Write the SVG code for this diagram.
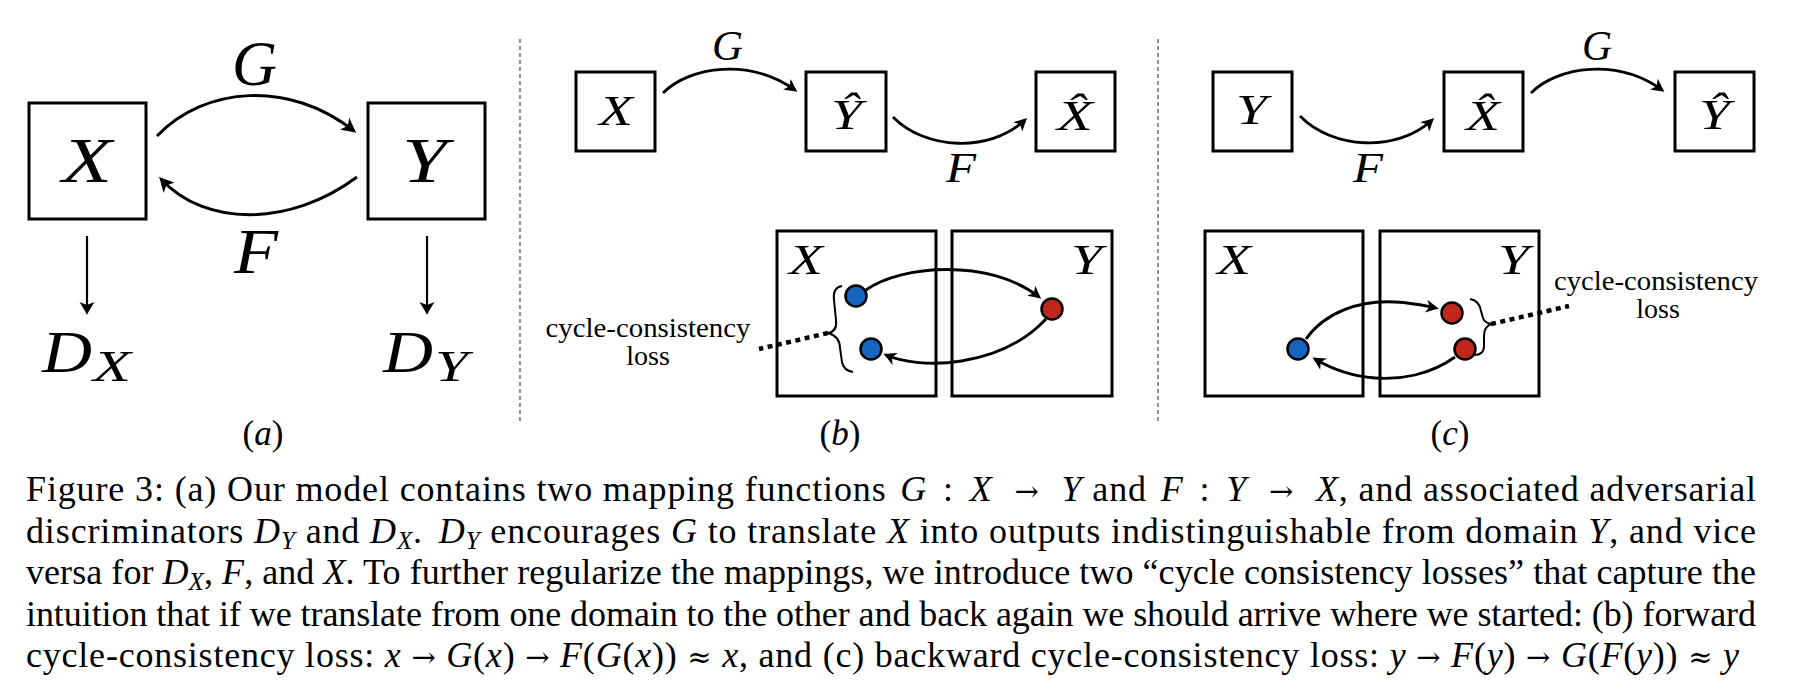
<svg xmlns="http://www.w3.org/2000/svg" width="1796" height="690" viewBox="0 0 1796 690">
<style>
.bx{fill:none;stroke:#000;stroke-width:3}
.cv{fill:none;stroke:#000;stroke-width:3}
.cv2{fill:none;stroke:#000;stroke-width:2.8}
.dn{fill:none;stroke:#000;stroke-width:2.2}
.div{fill:none;stroke:#777;stroke-width:1.6;stroke-dasharray:4 3}
.dot{fill:none;stroke:#000;stroke-width:4.5;stroke-dasharray:5 4.5}
.br{fill:none;stroke:#000;stroke-width:2}
.mi{font-family:"Liberation Serif","Times New Roman",serif;font-style:italic;fill:#000}
.rm{font-family:"Liberation Serif","Times New Roman",serif;fill:#000}
.big{font-size:63px}
.sm{font-size:42px}
.cap{font-family:"Liberation Serif","Times New Roman",serif;font-size:36px;fill:#000}
.cap .i{font-style:italic}
.cap .ar{font-family:"DejaVu Serif",serif;font-size:29px}
.lbl{font-family:"Liberation Serif","Times New Roman",serif;font-size:28px;fill:#000;text-anchor:middle}
.sub{font-size:25px}
.bd{fill:#1565c0;stroke:#000;stroke-width:2.5}
.rd{fill:#c1281b;stroke:#000;stroke-width:2.5}
</style>
<defs>
<marker id="ahL" markerUnits="userSpaceOnUse" orient="auto" refX="-3" refY="0" overflow="visible">
<path d="M0,0 C-4,-1.6 -9,-4.5 -15,-7.5 L-11,0 L-15,7.5 C-9,4.5 -4,1.6 0,0 Z" fill="#000"/>
</marker>
<marker id="ahS" markerUnits="userSpaceOnUse" orient="auto" refX="-3" refY="0" overflow="visible">
<path d="M0,0 C-3.5,-1.4 -7.5,-3.8 -13,-6.5 L-9.5,0 L-13,6.5 C-7.5,3.8 -3.5,1.4 0,0 Z" fill="#000"/>
</marker>
<marker id="ahD" markerUnits="userSpaceOnUse" orient="auto" refX="-2" refY="0" overflow="visible">
<path d="M0,0 C-4,-1.6 -8,-4.5 -13,-7.5 L-10,0 L-13,7.5 C-8,4.5 -4,1.6 0,0 Z" fill="#000"/>
</marker>
</defs>
<rect width="1796" height="690" fill="#fff"/>

<g id="dividers">
<line class="div" x1="520" y1="39" x2="520" y2="423"/>
<line class="div" x1="1158" y1="39" x2="1158" y2="423"/>
</g>

<g id="connectors">
<path class="cv" d="M157,136 C205,86 290,80 354,131" marker-end="url(#ahL)"/>
<path class="cv" d="M357,177 C290,227 205,227 161,179" marker-end="url(#ahL)"/>
<line class="dn" x1="87" y1="236" x2="87" y2="313" marker-end="url(#ahD)"/>
<line class="dn" x1="427" y1="236" x2="427" y2="313" marker-end="url(#ahD)"/>
<path class="cv2" d="M663,93 C690,66 750,58 795,90" marker-end="url(#ahS)"/>
<path class="cv2" d="M893,117 C925,150 990,153 1025,120" marker-end="url(#ahS)"/>
<path class="cv2" d="M1300,116 C1332,149 1397,153 1432,120" marker-end="url(#ahS)"/>
<path class="cv2" d="M1531,93 C1558,66 1618,58 1662,90" marker-end="url(#ahS)"/>
<path class="cv2" d="M866,290 C900,265 990,258 1039,297" marker-end="url(#ahS)"/>
<path class="cv2" d="M1046,319 C1000,368 920,370 886,355" marker-end="url(#ahS)"/>
<path class="cv2" d="M1306,339 C1325,312 1360,300 1395,302 C1415,303 1426,306 1436,308" marker-end="url(#ahS)"/>
<path class="cv2" d="M1455,357 C1430,375 1400,380 1375,378 C1350,376 1330,368 1315,359" marker-end="url(#ahS)"/>
<line class="dot" x1="828" y1="333" x2="759" y2="349"/>
<line class="dot" x1="1491" y1="324" x2="1569" y2="306"/>
</g>

<g id="panel-a">
<g id="a-X"><rect class="bx" x="29" y="103" width="117" height="116"/><text class="mi big" x="62" y="182" textLength="50" lengthAdjust="spacingAndGlyphs">X</text></g>
<g id="a-Y"><rect class="bx" x="368" y="103" width="117" height="116"/><text class="mi big" x="402" y="182" textLength="45" lengthAdjust="spacingAndGlyphs">Y</text></g>
<text id="a-G" class="mi big" x="232" y="85" textLength="45" lengthAdjust="spacingAndGlyphs">G</text>
<text id="a-F" class="mi big" x="234" y="273" textLength="44" lengthAdjust="spacingAndGlyphs">F</text>
<g id="a-DX"><text class="mi" x="42" y="372" font-size="60" textLength="50" lengthAdjust="spacingAndGlyphs">D</text><text class="mi" x="93" y="381" font-size="44" textLength="38" lengthAdjust="spacingAndGlyphs">X</text></g>
<g id="a-DY"><text class="mi" x="383" y="372" font-size="60" textLength="50" lengthAdjust="spacingAndGlyphs">D</text><text class="mi" x="435" y="381" font-size="44" textLength="33" lengthAdjust="spacingAndGlyphs">Y</text></g>
<text id="a-label" class="rm" x="263" y="445" font-size="35" text-anchor="middle">(<tspan font-style="italic">a</tspan>)</text>
</g>

<g id="panel-b">
<g id="b-X"><rect class="bx" x="576" y="72" width="79" height="79"/><text class="mi sm" x="599" y="125" textLength="34" lengthAdjust="spacingAndGlyphs">X</text></g>
<g id="b-Yhat"><rect class="bx" x="806" y="72" width="80" height="79"/><text class="mi sm" x="831" y="129" textLength="31" lengthAdjust="spacingAndGlyphs">Ŷ</text></g>
<g id="b-Xhat"><rect class="bx" x="1036" y="72" width="79" height="79"/><text class="mi sm" x="1057" y="130" textLength="36" lengthAdjust="spacingAndGlyphs">X̂</text></g>
<text id="b-G" class="mi sm" x="712" y="60" textLength="31" lengthAdjust="spacingAndGlyphs">G</text>
<text id="b-F" class="mi sm" x="946" y="182" textLength="30" lengthAdjust="spacingAndGlyphs">F</text>
<g id="b-domX"><rect class="bx" x="777" y="231" width="159" height="165"/><text class="mi sm" x="789" y="274" textLength="34" lengthAdjust="spacingAndGlyphs">X</text></g>
<g id="b-domY"><rect class="bx" x="952" y="231" width="160" height="165"/><text class="mi sm" x="1071" y="274" textLength="31" lengthAdjust="spacingAndGlyphs">Y</text></g>
<circle id="b-x1" class="bd" cx="856" cy="296" r="10.5"/>
<circle id="b-x2" class="bd" cx="871" cy="349" r="10.5"/>
<circle id="b-y" class="rd" cx="1052" cy="309" r="10.5"/>
<path id="b-brace" class="br" d="M842,286 C836,287 833,292 834,300 L836,320 C837,328 834,332 828,333 C835,335 840,340 840,348 L842,362 C843,368 847,371 853,372"/>
<g id="b-loss"><text class="lbl" x="648" y="337" textLength="205" lengthAdjust="spacingAndGlyphs">cycle-consistency</text><text class="lbl" x="648" y="365">loss</text></g>
<text id="b-label" class="rm" x="840" y="445" font-size="35" text-anchor="middle">(<tspan font-style="italic">b</tspan>)</text>
</g>

<g id="panel-c">
<g id="c-Y"><rect class="bx" x="1213" y="72" width="79" height="79"/><text class="mi sm" x="1236" y="124" textLength="31" lengthAdjust="spacingAndGlyphs">Y</text></g>
<g id="c-Xhat"><rect class="bx" x="1444" y="72" width="79" height="79"/><text class="mi sm" x="1466" y="130" textLength="34" lengthAdjust="spacingAndGlyphs">X̂</text></g>
<g id="c-Yhat"><rect class="bx" x="1675" y="72" width="79" height="79"/><text class="mi sm" x="1699" y="129" textLength="31" lengthAdjust="spacingAndGlyphs">Ŷ</text></g>
<text id="c-F" class="mi sm" x="1353" y="182" textLength="30" lengthAdjust="spacingAndGlyphs">F</text>
<text id="c-G" class="mi sm" x="1582" y="60" textLength="30" lengthAdjust="spacingAndGlyphs">G</text>
<g id="c-domX"><rect class="bx" x="1205" y="231" width="158" height="165"/><text class="mi sm" x="1217" y="274" textLength="34" lengthAdjust="spacingAndGlyphs">X</text></g>
<g id="c-domY"><rect class="bx" x="1380" y="231" width="159" height="165"/><text class="mi sm" x="1498" y="274" textLength="31" lengthAdjust="spacingAndGlyphs">Y</text></g>
<circle id="c-x" class="bd" cx="1298" cy="349" r="10.5"/>
<circle id="c-y1" class="rd" cx="1452" cy="313" r="10.5"/>
<circle id="c-y2" class="rd" cx="1465" cy="349" r="10.5"/>
<path id="c-brace" class="br" d="M1470,299 C1477,300 1480,305 1481,311 L1483,318 C1484,321 1486,323 1491,324 C1486,326 1484,330 1484,336 L1484,346 C1484,352 1480,355 1474,355"/>
<g id="c-loss"><text class="lbl" x="1656" y="290" textLength="204" lengthAdjust="spacingAndGlyphs">cycle-consistency</text><text class="lbl" x="1658" y="318">loss</text></g>
<text id="c-label" class="rm" x="1450" y="445" font-size="35" text-anchor="middle">(<tspan font-style="italic">c</tspan>)</text>
</g>

<g id="caption" class="cap">
<text x="26" y="501" textLength="1730" lengthAdjust="spacing">Figure 3:  (a) Our model contains two mapping functions <tspan class="i" dx="4">G</tspan><tspan dx="6"> : </tspan><tspan class="i" dx="6">X</tspan><tspan dx="6"> </tspan><tspan class="ar" dx="6">→</tspan><tspan dx="6"> </tspan><tspan class="i" dx="6">Y</tspan> and <tspan class="i" dx="4">F</tspan><tspan dx="6"> : </tspan><tspan class="i" dx="6">Y</tspan><tspan dx="6"> </tspan><tspan class="ar" dx="6">→</tspan><tspan dx="6"> </tspan><tspan class="i" dx="6">X</tspan>, and associated adversarial</text>
<text x="26" y="542.5" textLength="1730" lengthAdjust="spacing">discriminators <tspan class="i">D</tspan><tspan class="i sub" dy="6">Y</tspan><tspan dy="-6"> and </tspan><tspan class="i">D</tspan><tspan class="i sub" dy="6">X</tspan><tspan dy="-6">.  </tspan><tspan class="i" dx="6">D</tspan><tspan class="i sub" dy="6">Y</tspan><tspan dy="-6"> encourages </tspan><tspan class="i">G</tspan> to translate <tspan class="i">X</tspan> into outputs indistinguishable from domain <tspan class="i">Y</tspan>, and vice</text>
<text x="26" y="584" textLength="1730" lengthAdjust="spacing">versa for <tspan class="i">D</tspan><tspan class="i sub" dy="6">X</tspan><tspan dy="-6">, </tspan><tspan class="i">F</tspan>, and <tspan class="i">X</tspan>. To further regularize the mappings, we introduce two “cycle consistency losses” that capture the</text>
<text x="26" y="625.5" textLength="1730" lengthAdjust="spacing">intuition that if we translate from one domain to the other and back again we should arrive where we started: (b) forward</text>
<text x="26" y="667" textLength="1713" lengthAdjust="spacing">cycle-consistency loss: <tspan class="i">x</tspan> <tspan class="ar">→</tspan> <tspan class="i">G</tspan>(<tspan class="i">x</tspan>) <tspan class="ar">→</tspan> <tspan class="i">F</tspan>(<tspan class="i">G</tspan>(<tspan class="i">x</tspan>)) <tspan class="ar">≈</tspan> <tspan class="i">x</tspan>, and (c) backward cycle-consistency loss: <tspan class="i">y</tspan> <tspan class="ar">→</tspan> <tspan class="i">F</tspan>(<tspan class="i">y</tspan>) <tspan class="ar">→</tspan> <tspan class="i">G</tspan>(<tspan class="i">F</tspan>(<tspan class="i">y</tspan>)) <tspan class="ar">≈</tspan> <tspan class="i">y</tspan></text>
</g>
</svg>
